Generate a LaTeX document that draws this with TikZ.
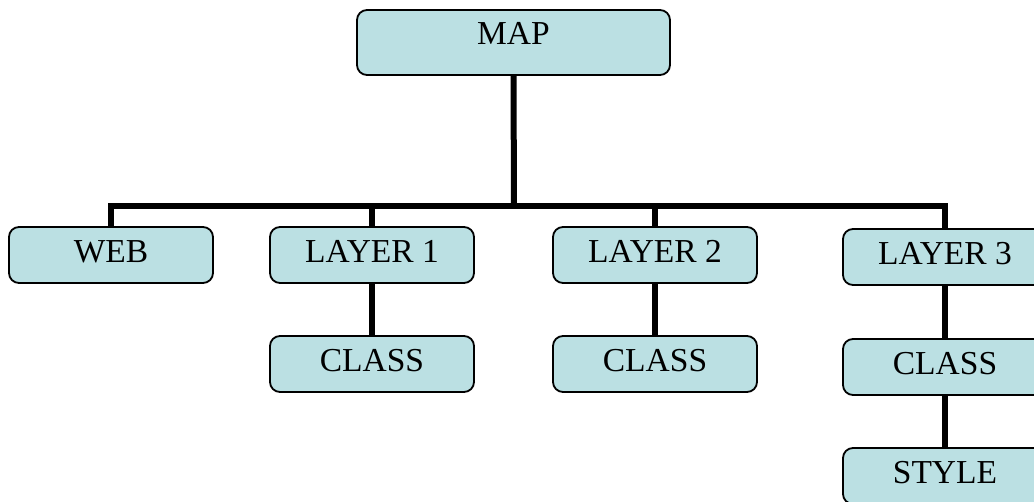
\documentclass[tikz,border=0pt]{standalone}
\usepackage{fontspec}
\setmainfont{Liberation Serif}
\definecolor{boxfill}{HTML}{BBE0E3}
\begin{document}
\begin{tikzpicture}[x=1pt,y=-1pt,
  box/.style={draw=black, line width=1.8pt, fill=boxfill, rounded corners=10pt,
    minimum width=204pt, minimum height=56pt, inner sep=0pt,
    text height=22pt, text depth=7pt, font=\fontsize{33.5}{40}\selectfont},
  conn/.style={line width=6pt, black}]
\useasboundingbox (0,0) rectangle (1034,502);
\clip (0,0) rectangle (1034,502);
\coordinate (j) at (514,206);
\node[box, minimum width=313pt, minimum height=65pt, text depth=18pt] (map) at (513.5,42.5) {MAP};
\node[box] (web) at (111,255) {WEB};
\node[box] (l1) at (372,255) {LAYER 1};
\node[box] (l2) at (655,255) {LAYER 2};
\node[box] (l3) at (945,257) {LAYER 3};
\node[box] (c1) at (372,364) {CLASS};
\node[box] (c2) at (655,364) {CLASS};
\node[box] (c3) at (945,367) {CLASS};
\node[box] (st) at (945,476) {STYLE};
\draw[conn] (map.south) -- (j);
\draw[conn] (web.north) |- (j);
\draw[conn] (l1.north) |- (j);
\draw[conn] (l2.north) |- (j);
\draw[conn] (l3.north) |- (j);
\draw[conn] (l1.south) -- (c1.north);
\draw[conn] (l2.south) -- (c2.north);
\draw[conn] (l3.south) -- (c3.north);
\draw[conn] (c3.south) -- (st.north);
\end{tikzpicture}
\end{document}
